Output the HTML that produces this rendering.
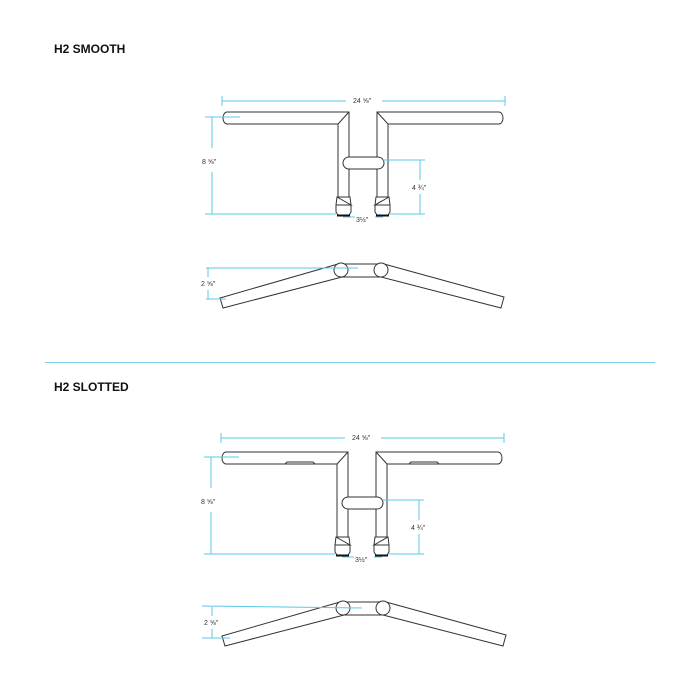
<!DOCTYPE html>
<html><head><style>
html,body{margin:0;padding:0;background:#fff;}
svg{display:block;}
text{font-family:"Liberation Sans",sans-serif;}
</style></head><body>
<svg width="700" height="700" viewBox="0 0 700 700" xmlns="http://www.w3.org/2000/svg">
<defs>
<g id="half" fill="#fff" stroke="#333" stroke-width="1">
  <path d="M227,112 L349,112 L349,197 L338,197 L338,124 L227,124 A4,6 0 0 1 227,112 Z"/>
  <line x1="349" y1="112" x2="338" y2="124"/>
  <path d="M337,197 L350,197 L351,205 L351,212 L349,215 L338,215 L336,212 L336,205 Z"/>
  <path d="M337,197 L351,205 L336,205" fill="none"/>
  <line x1="337" y1="215.5" x2="350" y2="215.5" stroke="#111" stroke-width="2"/>
</g>
<g id="front" fill="#fff" stroke="#333" stroke-width="1">
  <polygon points="220,298 338,264 342,277 223,308"/>
  <polygon points="384,264 504,297 501,308 381,277"/>
  <path d="M341,264 L381,264 M341,277 L381,277" fill="none"/>
  <circle cx="341" cy="270" r="7"/>
  <circle cx="381" cy="270" r="7"/>
</g>
</defs>
<text x="54" y="53" font-size="12" font-weight="bold" fill="#111">H2 SMOOTH</text>
<text x="54" y="391" font-size="12" font-weight="bold" fill="#111">H2 SLOTTED</text>
<line x1="45" y1="362.5" x2="655" y2="362.5" stroke="#7fd0ea" stroke-width="1"/>

<!-- SMOOTH TOP -->
<g>
  <use href="#half"/>
  <use href="#half" transform="translate(726,0) scale(-1,1)"/>
  <rect x="343" y="157" width="41" height="12" rx="6" fill="#fff" stroke="#333"/>
</g>
<g stroke="#5bc8e8" stroke-width="1" fill="none">
  <path d="M222,101 H346 M382,101 H505 M222,96 V106 M505,96 V106"/>
  <path d="M205,117 H240 M212,117 V148 M212,172 V214 M205,214 H336"/>
  <path d="M383,160 H425 M420,160 V180 M420,194 V214 M389,214 H425"/>
  <path d="M343,217 H355 M375,217 H383"/>
</g>
<g font-size="7" fill="#333">
  <text x="353" y="103">24 ⅝"</text>
  <text x="202" y="164">8 ⅝"</text>
  <text x="412" y="190">4 ¾"</text>
  <text x="356" y="222">3½"</text>
</g>
<!-- SMOOTH FRONT -->
<use href="#front"/>
<g stroke="#5bc8e8" stroke-width="1" fill="none">
  <path d="M206,268 H358 M208,268 V277 M208,290 V299 M206,299 H226"/>
</g>
<text x="201" y="286" font-size="7" fill="#333">2 ⅝"</text>

<!-- SLOTTED TOP -->
<g transform="translate(-1,340)">
  <use href="#half"/>
  <use href="#half" transform="translate(726,0) scale(-1,1)"/>
  <path d="M286,124 L288,122 L314,122 L316,124 M440,124 L438,122 L412,122 L410,124" fill="none" stroke="#333"/>
  <rect x="343" y="157" width="41" height="12" rx="6" fill="#fff" stroke="#333"/>
</g>
<g transform="translate(-1,337)" stroke="#5bc8e8" stroke-width="1" fill="none">
  <path d="M222,101 H346 M382,101 H505 M222,96 V106 M505,96 V106"/>
</g>
<g transform="translate(-1,340)" stroke="#5bc8e8" stroke-width="1" fill="none">
  <path d="M205,117 H240 M212,117 V148 M212,172 V214 M205,214 H336"/>
  <path d="M383,160 H425 M420,160 V180 M420,194 V214 M389,214 H425"/>
  <path d="M343,217 H355 M375,217 H383"/>
</g>
<g transform="translate(-1,337)" font-size="7" fill="#333"><text x="353" y="103">24 ⅝"</text></g>
<g transform="translate(-1,340)" font-size="7" fill="#333">
  <text x="202" y="164">8 ⅝"</text>
  <text x="412" y="190">4 ¾"</text>
  <text x="356" y="222">3½"</text>
</g>
<!-- SLOTTED FRONT -->
<g transform="translate(2,338)">
  <use href="#front"/>
</g>
<g stroke="#5bc8e8" stroke-width="1" fill="none">
  <path d="M202,606 L362,608 M212,607 V616 M212,629 V638 M202,638 H230"/>
</g>
<text x="204" y="625" font-size="7" fill="#333">2 ⅝"</text>
</svg>
</body></html>
